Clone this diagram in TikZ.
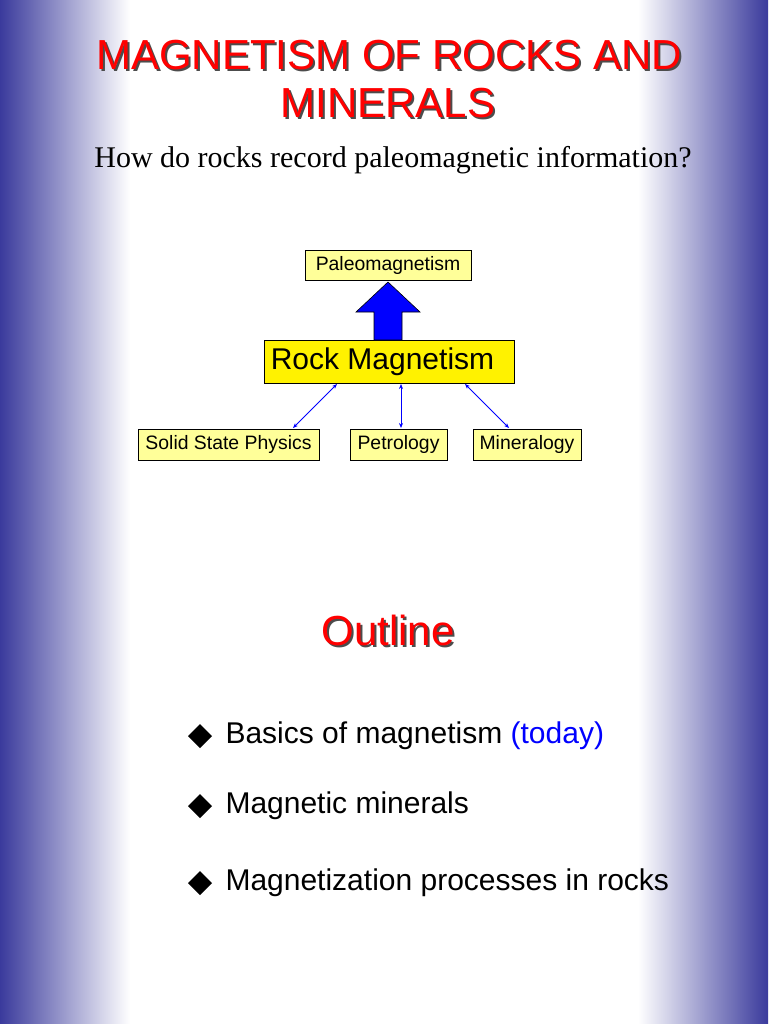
\documentclass[tikz,border=0pt]{standalone}
\usepackage{fontspec}
\setmainfont{Liberation Sans}
\newfontfamily\serifx{Liberation Serif}
\usetikzlibrary{arrows.meta}
\definecolor{edgeblue}{HTML}{3A3A9C}
\definecolor{lyel}{HTML}{FFFF99}
\definecolor{tred}{HTML}{FF0000}
\begin{document}
\begin{tikzpicture}[x=1pt,y=-1pt,
  box/.style={draw=black,line width=0.8pt,fill=lyel,inner sep=0pt,font=\fontsize{19.4}{22}\selectfont},
  link/.style={draw=blue,line width=0.8pt,{Stealth[length=5pt,width=4pt]}-{Stealth[length=5pt,width=4pt]}},
  ttl/.style={text=tred,font=\fontsize{42}{46}\selectfont},
  shd/.style={text=black!70,font=\fontsize{42}{46}\selectfont},
  item/.style={anchor=west,font=\fontsize{30}{34}\selectfont}]
\useasboundingbox (0,0) rectangle (768,1024);
\shade[left color=edgeblue,right color=white] (0,0) rectangle (130,1024);
\shade[left color=white,right color=edgeblue] (638,0) rectangle (768,1024);
% title
\node[shd] at (391,57) {MAGNETISM OF ROCKS AND};
\node[ttl] (t1) at (389,55) {MAGNETISM OF ROCKS AND};
\node[shd] at (390,105) {MINERALS};
\node[ttl] (t2) at (388,103) {MINERALS};
\node[font=\serifx\fontsize{30}{34}\selectfont] (sub) at (393,160) {How do rocks record paleomagnetic information?};
% diagram
\node[box,minimum width=166pt,minimum height=30pt] (pal) at (388,265) {Paleomagnetism};
\node[draw=black,line width=0.8pt,fill=yellow,minimum width=250pt,minimum height=43pt,inner sep=0pt,font=\fontsize{30}{34}\selectfont] (rock) at (389,361.5) {\hspace*{-13pt}Rock Magnetism};
\node[box,minimum width=181pt,minimum height=31pt] (ssp) at (228.5,444.5) {Solid State Physics};
\node[box,minimum width=97pt,minimum height=31pt] (pet) at (398.5,444.5) {Petrology};
\node[box,minimum width=108pt,minimum height=31pt] (min) at (527,444.5) {Mineralogy};
\fill[blue,draw=black,line width=0.6pt] (374,340) -- (374,312) -- (356,312) -- (388,282) -- (420,312) -- (402,312) -- (402,340) -- cycle;
\coordinate (r1) at (337,384); \coordinate (s1) at (293,428);
\coordinate (r2) at (401,384); \coordinate (p1) at (401,428);
\coordinate (r3) at (465,384); \coordinate (m1) at (509,428);
\draw[link] (r1) -- (s1);
\draw[link] (r2) -- (p1);
\draw[link] (r3) -- (m1);
% outline
\node[shd,font=\fontsize{42}{46}\selectfont] at (390,632) {Outline};
\node[ttl,font=\fontsize{42}{46}\selectfont] (out) at (388,630) {Outline};
\foreach \y/\t [count=\i] in {736/{Basics of magnetism \textcolor{blue}{(today)}},806/{Magnetic minerals},883/{Magnetization processes in rocks}}{
  \fill (200,\y-12) -- (212,\y) -- (200,\y+12) -- (188,\y) -- cycle;
  \node[item] (b\i) at (222,\y) {\t};
}
\end{tikzpicture}
\end{document}
